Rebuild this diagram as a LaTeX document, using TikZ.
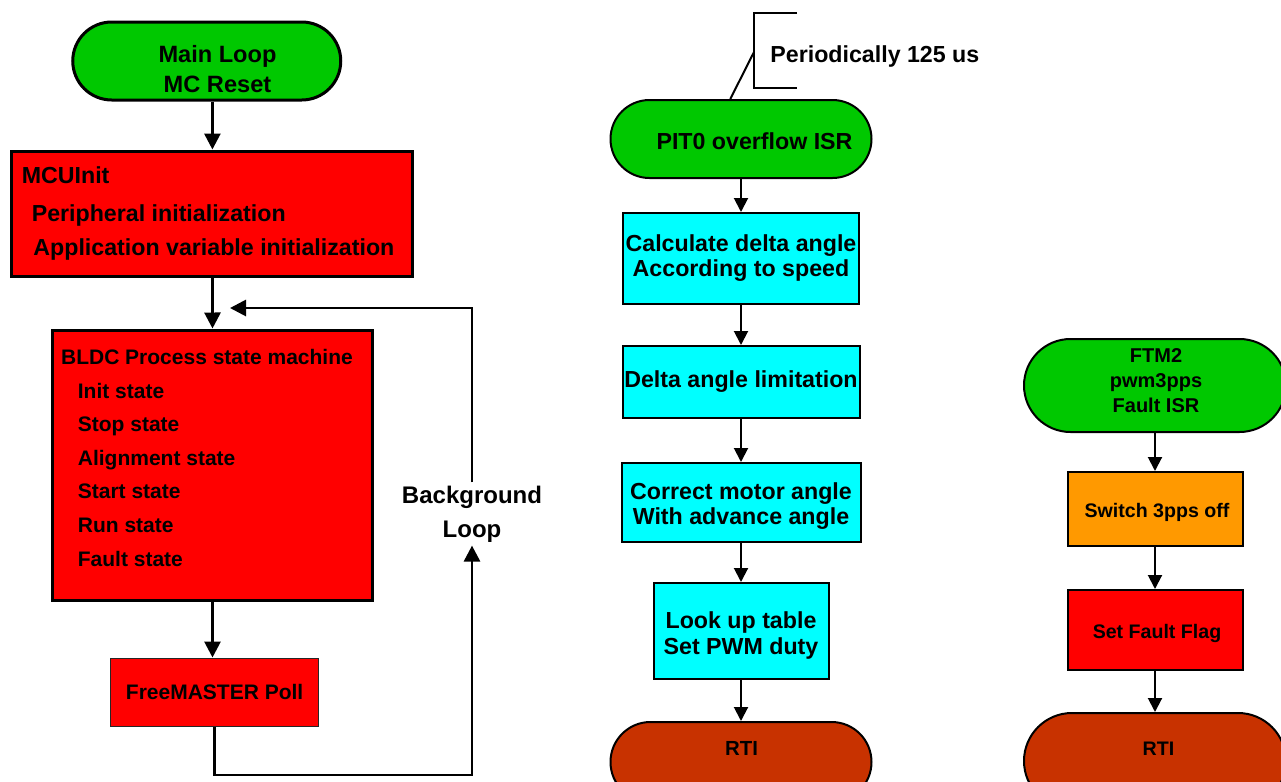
\documentclass[tikz,border=0pt]{standalone}
\usepackage{fontspec}
\setmainfont{Liberation Sans}
\usepackage{tikz}
\usetikzlibrary{shapes.misc,arrows.meta}
\definecolor{termgreen}{HTML}{00C800}
\definecolor{procred}{HTML}{FF0000}
\definecolor{proccyan}{HTML}{00FFFF}
\definecolor{procorange}{HTML}{FF9900}
\definecolor{rtibrown}{HTML}{C83200}
\tikzset{
  term/.style={rounded rectangle, draw=black, line width=1pt, inner sep=0pt},
  proc/.style={rectangle, draw=black, line width=1pt, inner sep=0pt, align=center},
  boxsize/.style 2 args={minimum width=#1, minimum height=#2},
  arr/.style={draw=black, line width=1pt, -{Triangle[length=7pt,width=7pt]}},
  arrL/.style={draw=black, line width=1.4pt, -{Triangle[length=8pt,width=8pt]}},
  brkline/.style={draw=black, line width=1pt},
  big/.style={font=\fontsize{11.6}{12.5}\selectfont\bfseries, align=center, inner sep=0pt},
  small/.style={font=\fontsize{9.8}{12.5}\selectfont\bfseries, align=center, inner sep=0pt},
  item/.style={font=\fontsize{10.5}{12}\selectfont\bfseries, anchor=base west, inner sep=0pt},
  line/.style={font=\fontsize{11.6}{12.5}\selectfont\bfseries, anchor=base west, inner sep=0pt},
}
\begin{document}
\begin{tikzpicture}[x=0.5pt,y=-0.5pt]
  \useasboundingbox (0,0) rectangle (1281,782);
  \coordinate (lb) at (0,775);
  \coordinate (ltip) at (230,308);
  \coordinate (brk) at (754,52);

  % main loop
  \node[term, fill=termgreen, line width=1.5pt, boxsize={134pt}{39pt}] (main) at (206.75,61) {};
  \node[big, font=\fontsize{11.8}{15}\selectfont\bfseries] (mainT) at (217.5,69.5) {Main Loop\\MC Reset};
  \node[proc, fill=procred, line width=1.5pt, boxsize={200.5pt}{62.5pt}] (init) at (212.4,213.5) {};
  \node[line] (initA) at (21.4,183) {MCUInit};
  \node[line] (initB) at (31.4,221) {Peripheral initialization};
  \node[line] (initC) at (33,255) {Application variable initialization};
  \node[proc, fill=procred, line width=1.5pt, boxsize={160pt}{135pt}] (bldc) at (212.5,465) {};
  \node[item] (bldcT) at (60.7,364) {BLDC Process state machine};
  \foreach \s [count=\i from 0] in {Init,Stop,Alignment,Start,Run,Fault}
    \node[item] (st\i) at (77.5,398+33.6*\i) {\s\ state};
  \node[proc, fill=procred, draw=black!85, line width=0.5pt, boxsize={104pt}{34pt},
        font=\fontsize{10.5}{12}\selectfont\bfseries] (fm) at (214.6,692) {FreeMASTER Poll};
  \node[big, font=\fontsize{12}{17}\selectfont\bfseries, inner sep=1.5pt] (loopT) at (472,514) {Background\\Loop};

  \draw[arrL] (init.north |- main.south) -- (init.north);
  \draw[arrL] (init.south) -- (bldc.north);
  \draw[arrL] (bldc.south) -- (bldc.south |- fm.north);
  \draw[arrL] (fm.south) |- (loopT.south |- lb) -- (loopT.south);
  \draw[arrL] (loopT.north) |- (ltip);

  % PIT0 interrupt
  \draw[brkline] (797,13) -| (754,88) -- (797,88);
  \node[line] (perT) at (770,62) {Periodically 125 us};
  \node[term, fill=termgreen, boxsize={130.5pt}{39pt}] (pit) at (741,139) {};
  \node[big] (pitT) at (754.5,141) {PIT0 overflow ISR};
  \draw[brkline] (brk) -- (pit.105);
  \node[proc, fill=proccyan, boxsize={118pt}{45.5pt}, big] (calc) at (741,258.5) {Calculate delta angle\\According to speed};
  \node[proc, fill=proccyan, boxsize={118.5pt}{36pt}, big] (delta) at (741,382) {Delta angle limitation};
  \node[proc, fill=proccyan, boxsize={119.5pt}{39.5pt}] (corr) at (741,502.5) {};
  \node[big] (corrT) at (741,506) {Correct motor angle\\With advance angle};
  \node[proc, fill=proccyan, boxsize={87.5pt}{48pt}] (look) at (741,631) {};
  \node[big, font=\fontsize{11.6}{13}\selectfont\bfseries] (lookT) at (741,635) {Look up table\\Set PWM duty};
  \node[term, fill=rtibrown, boxsize={130.5pt}{40pt}] (rtiA) at (741,762) {};
  \node[small, font=\fontsize{10.2}{12}\selectfont\bfseries] (rtiAT) at (741.5,748.5) {RTI};

  \draw[arr] (pit.south) -- (calc.north);
  \draw[arr] (calc.south) -- (delta.north);
  \draw[arr] (delta.south) -- (corr.north);
  \draw[arr] (corr.south) -- (look.north);
  \draw[arr] (look.south) -- (rtiA.north);

  % fault interrupt
  \node[term, fill=termgreen, boxsize={131pt}{46.5pt}] (ftm) at (1155,385.5) {};
  \node[small, font=\fontsize{10}{12.5}\selectfont\bfseries] (ftmT) at (1156,381) {FTM2\\pwm3pps\\Fault ISR};
  \node[proc, fill=procorange, boxsize={87.5pt}{37pt}] (sw) at (1155,509) {};
  \node[small] (swT) at (1157,512) {Switch 3pps off};
  \node[proc, fill=procred, boxsize={87.5pt}{40pt}] (flag) at (1155,630) {};
  \node[small] (flagT) at (1157,633.5) {Set Fault Flag};
  \node[term, fill=rtibrown, boxsize={131pt}{48pt}] (rtiB) at (1155,761) {};
  \node[small] (rtiBT) at (1158.5,748.5) {RTI};

  \draw[arr] (ftm.south) -- (sw.north);
  \draw[arr] (sw.south) -- (flag.north);
  \draw[arr] (flag.south) -- (rtiB.north);
\end{tikzpicture}
\end{document}
